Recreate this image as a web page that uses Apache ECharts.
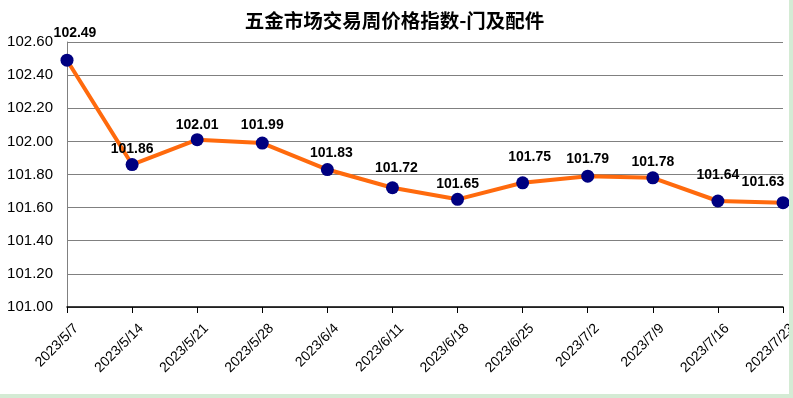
<!DOCTYPE html>
<html><head><meta charset="utf-8">
<script src="https://cdn.jsdelivr.net/npm/echarts@6/dist/echarts.min.js"></script>
<style>
html,body{margin:0;padding:0;background:#d4ebd4;width:793px;height:398px;overflow:hidden;}
#c{position:absolute;left:0;top:0;width:789px;height:394px;background:#fff;}
</style></head>
<body><div id="c"></div>
<script>
const titleText = '五金市场交易周价格指数-门及配件';
const categories = ['2023/5/7','2023/5/14','2023/5/21','2023/5/28','2023/6/4','2023/6/11','2023/6/18','2023/6/25','2023/7/2','2023/7/9','2023/7/16','2023/7/23'];
const values = [102.49, 101.86, 102.01, 101.99, 101.83, 101.72, 101.65, 101.75, 101.79, 101.78, 101.64, 101.63];
const yMin = 101.0, yMax = 102.6, yStep = 0.2;

// label placement tweaks (style only), [dx, dy] per point, mimicking the original's label layout
const labelNudges = [[8,0],[0,12],[0,13],[0,10],[4,11],[4,8],[0,12],[7,2],[0,10],[0,12],[0,2],[-20,7]];

const seriesData = values.map((v, i) => ({value: v, label: {offset: labelNudges[i] || [0, 0]}}));

const chart = echarts.init(document.getElementById('c'));
chart.setOption({
  animation: false,
  backgroundColor: '#ffffff',
  title: {
    text: titleText, left: 'center', top: 6,
    textStyle: {fontFamily: 'Noto Sans CJK SC', fontWeight: 'bold', fontSize: 19.5, color: '#000'}
  },
  grid: {left: 67, right: 6, top: 42, bottom: 87, containLabel: false, outerBoundsMode: 'none'},
  xAxis: {
    type: 'category', data: categories, boundaryGap: false,
    axisLine: {lineStyle: {color: '#000', width: 1.5}},
    axisTick: {show: true, length: 6, lineStyle: {color: '#000'}},
    axisLabel: {rotate: 45, fontFamily: 'Liberation Sans', fontSize: 14, color: '#000', margin: 10, interval: 0,
      verticalAlign: 'top', padding: [6, 0, 0, 0], hideOverlap: false},
    splitLine: {show: false}
  },
  yAxis: {
    type: 'value', min: yMin, max: yMax, interval: yStep,
    axisLine: {show: true, lineStyle: {color: '#808080'}},
    axisTick: {show: false},
    axisLabel: {formatter: v => v.toFixed(2), fontFamily: 'Liberation Sans', fontSize: 15, color: '#000', margin: 14},
    splitLine: {lineStyle: {color: '#808080', width: 1}}
  },
  series: [{
    type: 'line', data: seriesData,
    lineStyle: {color: '#ff6a0d', width: 4},
    itemStyle: {color: '#000080'},
    symbol: 'circle', symbolSize: 13,
    label: {show: true, position: 'top', distance: 14, formatter: p => p.value.toFixed(2),
      fontFamily: 'Liberation Sans', fontWeight: 'bold', fontSize: 14, color: '#000'}
  }]
});
</script></body></html>
